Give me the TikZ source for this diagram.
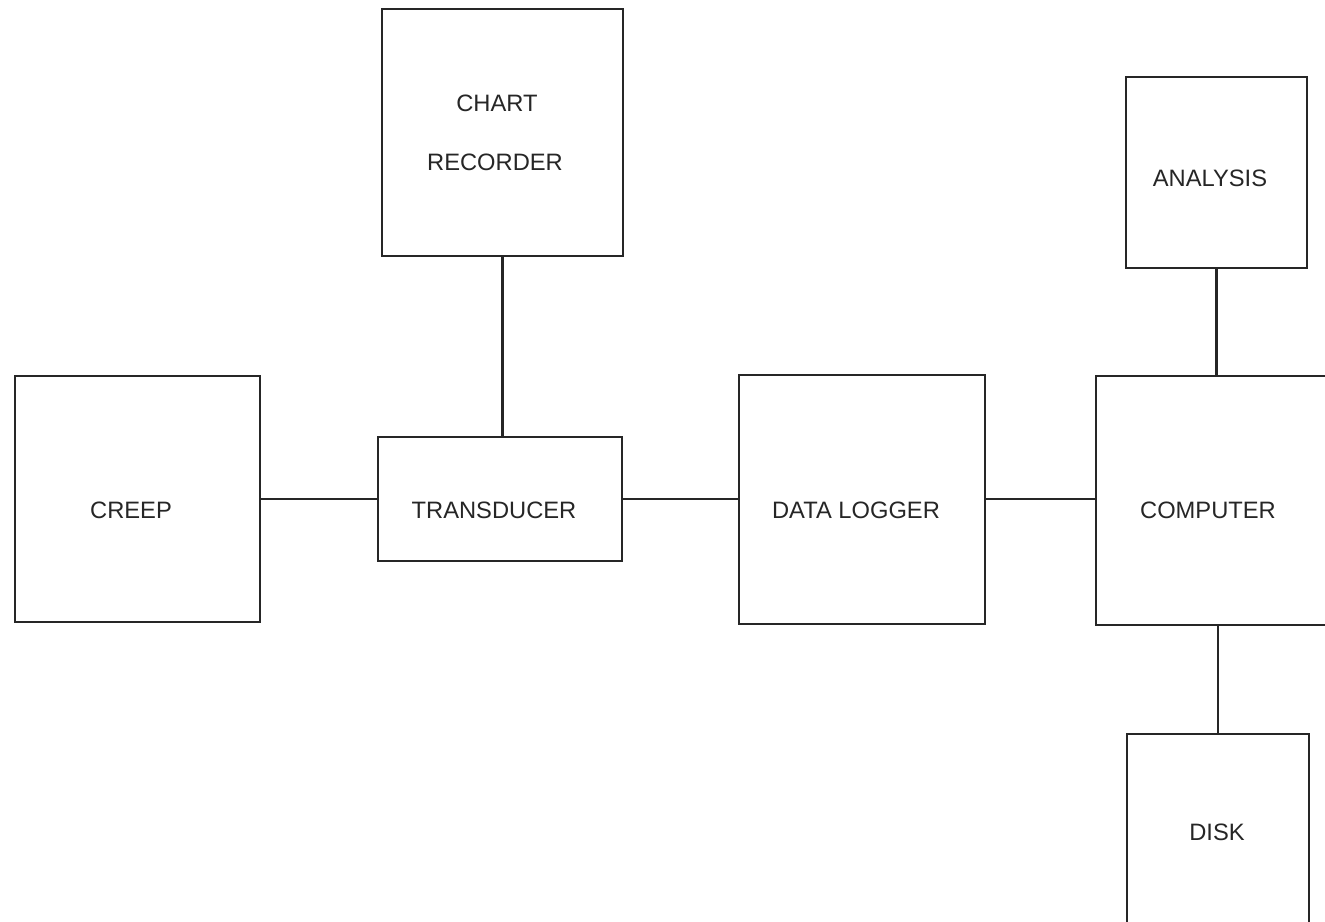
\documentclass[tikz,border=0pt]{standalone}
\usepackage{fontspec}
\setmainfont{Liberation Sans}
\begin{document}
\begin{tikzpicture}[x=0.02cm,y=-0.02cm,
  blk/.style={draw=black!85,line width=1.3pt,inner sep=0pt},
  txt/.style={font=\fontsize{13.5}{16}\selectfont,text=black!85,inner sep=0pt},
  wire/.style={draw=black!85,line width=1.3pt}]
\useasboundingbox[fill=white] (0,0) rectangle (1325,922);
\node[blk,minimum width=4.82cm,minimum height=4.94cm] (chart) at (502.5,132.5) {};
\node[blk,minimum width=3.62cm,minimum height=3.82cm] (analysis) at (1216.5,172.5) {};
\node[blk,minimum width=4.90cm,minimum height=4.92cm] (creep) at (137.5,499) {};
\node[blk,minimum width=4.88cm,minimum height=2.48cm] (trans) at (500,499) {};
\node[blk,minimum width=4.92cm,minimum height=4.98cm] (logger) at (862,499.5) {};
\node[blk,minimum width=4.88cm,minimum height=4.98cm] (computer) at (1218,500.5) {};
\node[blk,minimum width=3.64cm,minimum height=3.92cm] (disk) at (1218,832) {};
\node[txt] (chartA) at (497,103) {CHART};
\node[txt] (chartB) at (495,162) {RECORDER};
\node[txt] (analysisT) at (1210,178) {ANALYSIS};
\node[txt] (creepT) at (131,510) {CREEP};
\node[txt] (transT) at (494,510) {TRANSDUCER};
\node[txt] (loggerT) at (856,510) {DATA LOGGER};
\node[txt] (computerT) at (1208,510) {COMPUTER};
\node[txt] (diskT) at (1217,832) {DISK};
\draw[wire] (chart.south) -- (chart.south |- trans.north);
\draw[wire] (creep.east) -- (creep.east -| trans.west);
\draw[wire] (trans.east) -- (trans.east -| logger.west);
\draw[wire] (trans.east -| logger.east) -- (trans.east -| computer.west);
\draw[wire] (analysis.south) -- (analysis.south |- computer.north);
\draw[wire] (computer.south) -- (computer.south |- disk.north);
\end{tikzpicture}
\end{document}
